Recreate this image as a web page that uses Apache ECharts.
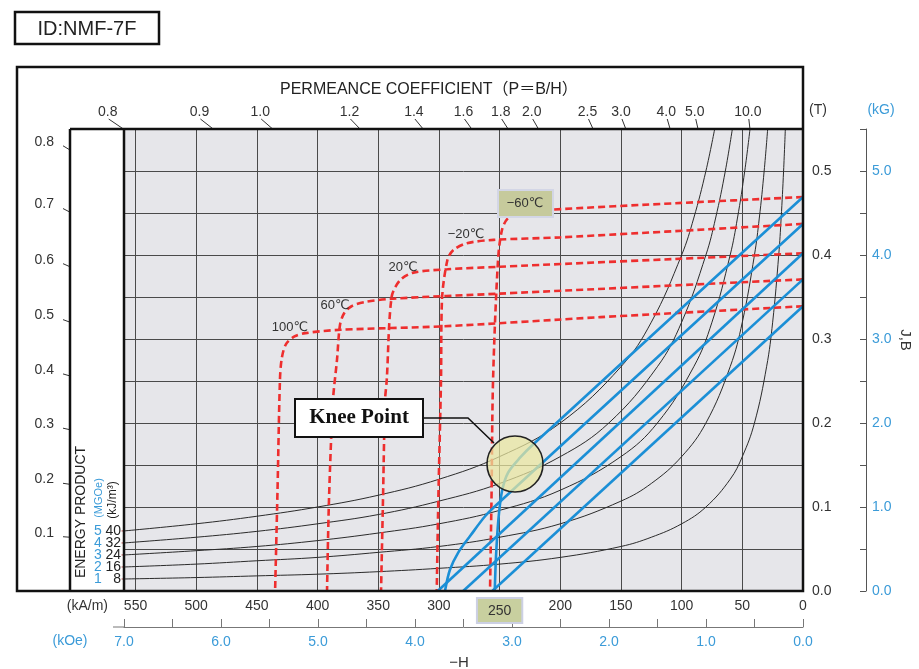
<!DOCTYPE html>
<html><head><meta charset="utf-8">
<script src="https://cdn.jsdelivr.net/npm/echarts@6/dist/echarts.min.js"></script>
<style>html,body{margin:0;padding:0;background:#fff;}#c{width:919px;height:669px;}</style>
</head><body><div id="c"></div>
<script>
// ================= DATA =================
// Energy product curves: [ -H (kA/m), B (T) ]
const energyKJ   = [8, 16, 24, 32, 40];       // kJ/m3
const energyMGOe = ['1', '2', '3', '4', '5']; // MGOe
const energy8  = [[14.5,0.552],[16,0.5],[18,0.444],[20,0.4],[25,0.32],[30,0.267],[40,0.2],[50,0.16],[60,0.133],[80,0.1],[100,0.08],[125,0.064],[150,0.053],[200,0.04],[250,0.032],[300,0.027],[350,0.023],[400,0.02],[450,0.018],[500,0.016],[559.5,0.0143]];
const energy16 = [[29,0.552],[32,0.5],[36,0.444],[40,0.4],[50,0.32],[60,0.267],[80,0.2],[100,0.16],[125,0.128],[150,0.107],[200,0.08],[250,0.064],[300,0.053],[350,0.046],[400,0.04],[450,0.036],[500,0.032],[559.5,0.0286]];
const energy24 = [[43.5,0.552],[48,0.5],[54,0.444],[60,0.4],[75,0.32],[90,0.267],[120,0.2],[150,0.16],[200,0.12],[250,0.096],[300,0.08],[350,0.069],[400,0.06],[450,0.053],[500,0.048],[559.5,0.0429]];
const energy32 = [[58,0.552],[64,0.5],[72,0.444],[80,0.4],[100,0.32],[120,0.267],[160,0.2],[200,0.16],[250,0.128],[300,0.107],[350,0.091],[400,0.08],[450,0.071],[500,0.064],[559.5,0.0572]];
const energy40 = [[72.5,0.552],[80,0.5],[90,0.444],[100,0.4],[125,0.32],[150,0.267],[200,0.2],[250,0.16],[300,0.133],[350,0.114],[400,0.1],[450,0.089],[500,0.08],[559.5,0.0715]];

// Intrinsic (J) curves, red dashed: [ -H (kA/m), J (T) ]
const tempLabels = ['−60℃', '−20℃', '20℃', '60℃', '100℃'];
const jMinus60 = [[0,0.469],[100,0.462],[211,0.4536],[233,0.45],[243,0.444],[248,0.43],[251.3,0.394],[255.4,0.251],[256.7,0.108],[257.9,0]];
const jMinus20 = [[0,0.437],[200,0.421],[255,0.418],[277,0.414],[288,0.406],[293,0.394],[297.5,0.346],[298.3,0.251],[300.5,0.108],[301.8,0]];
const jPlus20  = [[0,0.402],[250,0.386],[293,0.383],[321,0.379],[332,0.370],[339,0.35],[343,0.251],[344.4,0.227],[346.1,0.108],[347.7,0]];
const jPlus60  = [[0,0.371],[250,0.354],[338,0.348],[361,0.344],[372,0.339],[378,0.331],[381.5,0.317],[384,0.275],[387.3,0.227],[390.6,0.108],[392.2,0]];
const jPlus100 = [[0,0.339],[167,0.326],[298,0.315],[381,0.311],[410,0.307],[419,0.303],[426,0.294],[429.5,0.277],[431,0.251],[433,0.12],[435,0]];

// Normal (B) curves, blue: [ -H (kA/m), B (T) ]
const bMinus60 = [[0,0.469],[222,0.175],[233,0.159],[243,0.141],[248,0.119],[251,0.085],[253,0.04],[254,0]];
const bMinus20 = [[0,0.437],[250,0.106],[262,0.089],[274,0.066],[284,0.046],[291,0.025],[295,0]];
const bPlus20  = [[0,0.402],[301,0]];
const bPlus60  = [[0,0.371],[280,0]];
const bPlus100 = [[0,0.339],[256,0]];

// Permeance coefficient ticks
const permTopLabels  = ['0.8','0.9','1.0','1.2','1.4','1.6','1.8','2.0','2.5','3.0','4.0','5.0','10.0'];
const permTopH       = [560, 486, 437, 365, 313, 273, 243, 218, 173, 146, 109.5, 86.5, 43.7]; // -H where the P line meets the top
const permLeftLabels = ['0.8','0.7','0.6','0.5','0.4','0.3','0.2','0.1'];
const permLeftB      = [0.525, 0.451, 0.386, 0.320, 0.256, 0.192, 0.127, 0.064]; // B where the P line meets the panel edge

// ================= CHART =================
const FONT = '"Liberation Sans", Arial, sans-serif';
const TXT = '#333';
const BLUE_TXT = '#3b9bd8';
const RED = '#ee2e2e';
const BLUE = '#1b8fd6';
const PANEL_X = 70;     // left border of the white energy-product panel (px)
const TOP_B = 0.55;

const chart = echarts.init(document.getElementById('c'), null, {renderer: 'canvas'});

function line(data, color, width, dash, smooth, z) {
  return {type: 'line', xAxisIndex: 0, yAxisIndex: 0, data: data, symbol: 'none', smooth: smooth,
    silent: true, z: z, lineStyle: {color: color, width: width, type: dash || 'solid'}};
}

const energyCurves = [energy8, energy16, energy24, energy32, energy40];
const jCurves = [jMinus60, jMinus20, jPlus20, jPlus60, jPlus100];
const bCurves = [bMinus60, bMinus20, bPlus20, bPlus60, bPlus100];

const series = [];
energyCurves.forEach(c => series.push(line(c, '#2b2b2b', 1, 'solid', 0.4, 2)));
jCurves.forEach(c => series.push(line(c, RED, 2.6, [7, 4], 0.3, 3)));
bCurves.forEach(c => series.push(line(c, BLUE, 2.6, 'solid', 0.3, 4)));

// top permeance ticks + labels
series.push({
  type: 'custom', xAxisIndex: 0, yAxisIndex: 0, silent: true, clip: false, z: 10,
  data: permTopH.map(h => [h, TOP_B]),
  renderItem: function (params, api) {
    const i = params.dataIndex;
    const p0 = api.coord([0, 0]);
    const p1 = api.coord([api.value(0), api.value(1)]);
    const dx = p1[0] - p0[0], dy = p1[1] - p0[1];
    const k = 10 / Math.abs(dy);
    const p2 = [p1[0] + dx * k, p1[1] + dy * k];
    return {type: 'group', children: [
      {type: 'line', shape: {x1: p1[0], y1: p1[1], x2: p2[0], y2: p2[1]}, style: {stroke: '#333', lineWidth: 1}},
      {type: 'text', style: {text: permTopLabels[i], x: p2[0] - 1, y: p2[1] - 7, align: 'center', verticalAlign: 'middle',
        font: '14px ' + FONT, fill: TXT}}
    ]};
  }
});
// left permeance ticks + labels
series.push({
  type: 'custom', xAxisIndex: 0, yAxisIndex: 0, silent: true, clip: false, z: 10,
  data: permLeftB.map(b => [0, b]),
  renderItem: function (params, api) {
    const i = params.dataIndex;
    const p0 = api.coord([0, 0]);
    const y = api.coord([0, api.value(1)])[1];
    const dx = PANEL_X - p0[0], dy = y - p0[1];
    const t = -7 / dx;
    const p2 = [PANEL_X - 7, y - dy * t * -1];
    const up = [PANEL_X - 7, y + dy * t];
    return {type: 'group', children: [
      {type: 'line', shape: {x1: PANEL_X, y1: y, x2: up[0], y2: up[1]}, style: {stroke: '#333', lineWidth: 1}},
      {type: 'text', style: {text: permLeftLabels[i], x: 54, y: up[1] - 4, align: 'right', verticalAlign: 'middle',
        font: '14px ' + FONT, fill: TXT}}
    ]};
  }
});
// energy product labels
series.push({
  type: 'custom', xAxisIndex: 0, yAxisIndex: 0, silent: true, clip: false, z: 10,
  data: energyCurves.map(c => c[c.length - 1]),
  renderItem: function (params, api) {
    const i = params.dataIndex;
    const y = api.coord([api.value(0), api.value(1)])[1];
    return {type: 'group', children: [
      {type: 'text', style: {text: energyMGOe[i], x: 98, y: y, align: 'center', verticalAlign: 'middle', font: '14px ' + FONT, fill: BLUE_TXT}},
      {type: 'text', style: {text: String(energyKJ[i]), x: 121, y: y, align: 'right', verticalAlign: 'middle', font: '14px ' + FONT, fill: '#222'}},
      {type: 'line', shape: {x1: 121.5, y1: y, x2: 125, y2: y}, style: {stroke: '#c0504d', lineWidth: 1}}
    ]};
  }
});

const tempPos = [[525, 203], [466, 234], [403, 267], [335, 305], [290, 327]];

const graphic = [
  {type: 'rect', shape: {x: 15, y: 12, width: 144, height: 32}, style: {fill: '#fff', stroke: '#111', lineWidth: 2.5}, z: 100},
  {type: 'text', x: 87, y: 29, style: {text: 'ID:NMF-7F', align: 'center', verticalAlign: 'middle', font: '20px ' + FONT, fill: '#222'}, z: 101},
  {type: 'rect', shape: {x: 17, y: 67, width: 786, height: 524}, style: {fill: 'none', stroke: '#111', lineWidth: 2.5}, z: 100},
  {type: 'line', shape: {x1: PANEL_X, y1: 129, x2: 803, y2: 129}, style: {stroke: '#111', lineWidth: 2.5}, z: 100},
  {type: 'line', shape: {x1: PANEL_X, y1: 129, x2: PANEL_X, y2: 591}, style: {stroke: '#111', lineWidth: 2.5}, z: 100},
  {type: 'line', shape: {x1: 124, y1: 129, x2: 124, y2: 591}, style: {stroke: '#111', lineWidth: 2.5}, z: 100},
  {type: 'line', shape: {x1: 113, y1: 627, x2: 124, y2: 627}, style: {stroke: '#777', lineWidth: 1}, z: 100},
  {type: 'text', x: 280, y: 90, style: {text: 'PERMEANCE COEFFICIENT（P＝B/H）', verticalAlign: 'middle', font: '16px ' + FONT + ', "Noto Sans CJK JP"', fill: '#222'}, z: 100},
  {type: 'text', x: 818, y: 110, style: {text: '(T)', align: 'center', verticalAlign: 'middle', font: '14px ' + FONT, fill: TXT}, z: 100},
  {type: 'text', x: 881, y: 110, style: {text: '(kG)', align: 'center', verticalAlign: 'middle', font: '14px ' + FONT, fill: BLUE_TXT}, z: 100},
  {type: 'text', x: 905, y: 340, rotation: -Math.PI / 2, style: {text: 'J,B', align: 'center', verticalAlign: 'middle', font: '15px ' + FONT, fill: TXT}, z: 100},
  {type: 'text', x: 108, y: 606, style: {text: '(kA/m)', align: 'right', verticalAlign: 'middle', font: '14px ' + FONT, fill: TXT}, z: 100},
  {type: 'text', x: 70, y: 641, style: {text: '(kOe)', align: 'center', verticalAlign: 'middle', font: '14px ' + FONT, fill: BLUE_TXT}, z: 100},
  {type: 'text', x: 459, y: 663, style: {text: '−H', align: 'center', verticalAlign: 'middle', font: '15px ' + FONT, fill: TXT}, z: 100},
  {type: 'text', x: 81, y: 512, rotation: Math.PI / 2, style: {text: 'ENERGY PRODUCT', align: 'center', verticalAlign: 'middle', font: '14px ' + FONT, fill: '#222'}, z: 100},
  {type: 'text', x: 99, y: 498, rotation: Math.PI / 2, style: {text: '(MGOe)', align: 'center', verticalAlign: 'middle', font: '11px ' + FONT, fill: BLUE_TXT}, z: 100},
  {type: 'text', x: 113, y: 500, rotation: Math.PI / 2, style: {text: '(kJ/m³)', align: 'center', verticalAlign: 'middle', font: '12px ' + FONT, fill: '#222'}, z: 100},
  // knee point annotation
  {type: 'polyline', shape: {points: [[423, 418], [468, 418], [494, 443]]}, style: {stroke: '#111', lineWidth: 1.5, fill: 'none'}, z: 100},
  {type: 'circle', shape: {cx: 515, cy: 464, r: 28}, style: {fill: 'rgba(234,232,160,0.72)', stroke: '#222', lineWidth: 1.6}, z: 100},
  {type: 'rect', shape: {x: 295, y: 399, width: 128, height: 38}, style: {fill: '#fff', stroke: '#111', lineWidth: 2}, z: 100},
  {type: 'text', x: 359, y: 418, style: {text: 'Knee Point', align: 'center', verticalAlign: 'middle', font: 'bold 21px "Liberation Serif", "Times New Roman", serif', fill: '#111'}, z: 101},
  // -60 label box
  {type: 'rect', shape: {x: 498, y: 190, width: 55, height: 27}, style: {fill: '#c6ca9c', stroke: '#d3d6e6', lineWidth: 2}, z: 100}
];
tempLabels.forEach((t, i) => {
  graphic.push({type: 'text', x: tempPos[i][0], y: tempPos[i][1],
    style: {text: t, align: 'center', verticalAlign: 'middle', font: '13px ' + FONT + ', "DejaVu Sans"', fill: '#333'}, z: 101});
});

const option = {
  animation: false,
  backgroundColor: '#fff',
  grid: [
    {left: 124, top: 129, width: 679, height: 462, show: true, backgroundColor: '#e6e6ea', borderWidth: 0},
    {left: 124, top: 591, width: 679, height: 36, show: false}
  ],
  xAxis: [
    {gridIndex: 0, type: 'value', min: 0, max: 559.5, inverse: true, interval: 50,
      axisLine: {show: false}, axisTick: {show: false},
      axisLabel: {margin: 8, color: TXT, fontSize: 14, fontFamily: FONT,
        formatter: v => v === 250 ? '{hl|250}' : (v % 50 === 0 ? String(v) : ''),
        rich: {hl: {backgroundColor: '#c8cf9f', borderColor: '#ccd0e4', borderWidth: 2, padding: [5, 10, 4, 10],
          fontSize: 14, fontFamily: FONT, color: TXT}}},
      splitLine: {show: true, lineStyle: {color: '#4a4a4a', width: 1}}},
    {gridIndex: 1, type: 'value', min: 0, max: 7, inverse: true, interval: 0.5,
      axisLine: {show: true, onZero: false, lineStyle: {color: '#777', width: 1}},
      axisTick: {show: true, inside: true, length: 8, lineStyle: {color: '#777'}},
      axisLabel: {margin: 8, color: BLUE_TXT, fontSize: 14, fontFamily: FONT,
        formatter: v => Math.abs(v - Math.round(v)) < 1e-6 ? v.toFixed(1) : ''},
      splitLine: {show: false}}
  ],
  yAxis: [
    {gridIndex: 0, type: 'value', min: 0, max: TOP_B, interval: 0.05, position: 'right',
      axisLine: {show: false}, axisTick: {show: false},
      axisLabel: {margin: 9, color: TXT, fontSize: 14, fontFamily: FONT,
        formatter: v => { const r = Math.round(v * 100); return r % 10 === 0 ? (r / 100).toFixed(1) : ''; }},
      splitLine: {show: true, lineStyle: {color: '#4a4a4a', width: 1}}},
    {gridIndex: 0, type: 'value', min: 0, max: 5.5, interval: 0.5, position: 'right', offset: 63,
      axisLine: {show: true, lineStyle: {color: '#555', width: 1}},
      axisTick: {show: true, inside: true, length: 6, lineStyle: {color: '#555'}},
      axisLabel: {margin: 6, color: BLUE_TXT, fontSize: 14, fontFamily: FONT,
        formatter: v => Math.abs(v - Math.round(v)) < 1e-6 ? v.toFixed(1) : ''},
      splitLine: {show: false}},
    {gridIndex: 1, type: 'value', show: false, min: 0, max: 1}
  ],
  graphic: graphic,
  series: series
};
chart.setOption(option);
</script>
</body></html>
